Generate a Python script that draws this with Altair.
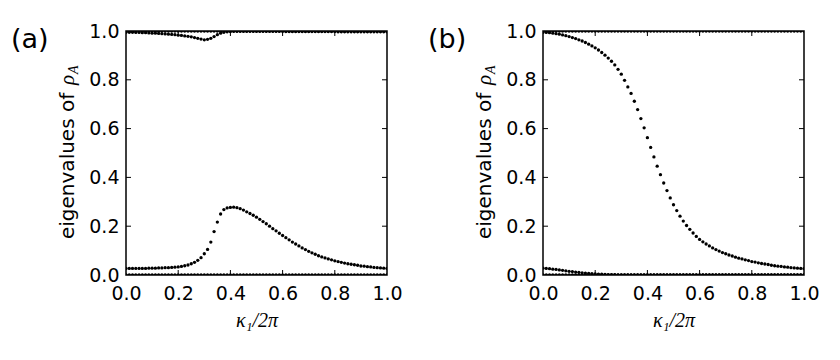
import altair as alt
import pandas as pd

# sampling grid of kappa_1 / 2pi (81 points)
kappa = [0.0, 0.0125, 0.025, 0.0375, 0.05, 0.0625, 0.075, 0.0875, 0.1, 0.1125,
         0.125, 0.1375, 0.15, 0.1625, 0.175, 0.1875, 0.2, 0.2125, 0.225, 0.2375,
         0.25, 0.2625, 0.275, 0.2875, 0.3, 0.3125, 0.325, 0.3375, 0.35, 0.3625,
         0.375, 0.3875, 0.4, 0.4125, 0.425, 0.4375, 0.45, 0.4625, 0.475, 0.4875,
         0.5, 0.5125, 0.525, 0.5375, 0.55, 0.5625, 0.575, 0.5875, 0.6, 0.6125,
         0.625, 0.6375, 0.65, 0.6625, 0.675, 0.6875, 0.7, 0.7125, 0.725, 0.7375,
         0.75, 0.7625, 0.775, 0.7875, 0.8, 0.8125, 0.825, 0.8375, 0.85, 0.8625,
         0.875, 0.8875, 0.9, 0.9125, 0.925, 0.9375, 0.95, 0.9625, 0.975, 0.9875, 1.0]

# panel (a)
a_top = [1.0] * 81
a_upper = [0.995, 0.995, 0.995, 0.994, 0.994, 0.993, 0.993, 0.992, 0.991, 0.991,
           0.990, 0.989, 0.988, 0.987, 0.986, 0.985, 0.983, 0.982, 0.980, 0.978,
           0.976, 0.973, 0.970, 0.967, 0.964, 0.966, 0.970, 0.977, 0.985, 0.991,
           0.995, 0.997, 0.998,
           0.999, 0.999, 0.999, 0.999, 0.999, 0.999, 0.999, 0.999,
           0.999, 0.999, 0.999, 0.999, 0.999, 0.999, 0.999, 0.999,
           0.998, 0.998, 0.998, 0.998, 0.998, 0.998, 0.998, 0.998,
           0.998, 0.998, 0.998, 0.998, 0.998, 0.998, 0.998, 0.998,
           0.997, 0.997, 0.997, 0.997, 0.997, 0.997, 0.997, 0.997,
           0.997, 0.997, 0.997, 0.997, 0.997, 0.997, 0.997, 0.997]
a_lower = [0.027, 0.027, 0.027, 0.027, 0.027, 0.027, 0.027, 0.028, 0.028, 0.028,
           0.029, 0.029, 0.030, 0.030, 0.031, 0.032, 0.033, 0.035, 0.038, 0.041,
           0.046, 0.052, 0.060, 0.071, 0.087, 0.105, 0.135, 0.178, 0.217, 0.250,
           0.268, 0.275, 0.277, 0.278, 0.276, 0.272, 0.266, 0.259, 0.252, 0.245,
           0.237, 0.228, 0.219, 0.210, 0.200, 0.190, 0.181, 0.171, 0.162, 0.153,
           0.144, 0.135, 0.127, 0.119, 0.111, 0.104, 0.097, 0.091, 0.085, 0.079,
           0.074, 0.070, 0.066, 0.062, 0.058, 0.055, 0.052, 0.049, 0.046, 0.044,
           0.042, 0.040, 0.037, 0.036, 0.034, 0.033, 0.031, 0.030, 0.029, 0.028, 0.027]
a_bottom = [0.0] * 81

# panel (b)
b_top = [1.0] * 81
b_upper = [0.995, 0.994, 0.993, 0.991, 0.989, 0.987, 0.984, 0.981, 0.977, 0.973,
           0.969, 0.964, 0.959, 0.953, 0.946, 0.939, 0.931, 0.922, 0.912, 0.901,
           0.889, 0.876, 0.861, 0.843, 0.823, 0.798, 0.771, 0.744, 0.712, 0.678,
           0.641, 0.603, 0.563, 0.523, 0.484, 0.446, 0.411, 0.377, 0.346, 0.316,
           0.288, 0.264, 0.241, 0.221, 0.203, 0.187, 0.172, 0.158, 0.146, 0.136,
           0.127, 0.119, 0.111, 0.104, 0.098, 0.092, 0.087, 0.082, 0.078, 0.073,
           0.069, 0.066, 0.062, 0.059, 0.055, 0.053, 0.050, 0.047, 0.045, 0.043,
           0.040, 0.038, 0.036, 0.035, 0.033, 0.032, 0.030, 0.029, 0.028, 0.027, 0.026]
b_lower = [0.028, 0.027, 0.026, 0.024, 0.023, 0.021, 0.019, 0.017, 0.015, 0.014,
           0.012, 0.011, 0.009, 0.008, 0.007, 0.006, 0.004, 0.003, 0.003, 0.002,
           0.001, 0.001, 0.001] + [0.0] * 58
b_bottom = [0.0] * 81

tick_vals = [0.0, 0.2, 0.4, 0.6, 0.8, 1.0]
inner_ticks = [0.2, 0.4, 0.6, 0.8]

# y-axis title pieces: plain text, math rho, subscript A
ytitle_main = "eigenvalues of "
ytitle_sym = "ρ"
ytitle_sub = "A"

W, H = 261, 244
TL = 5
FONT = "DejaVu Sans"
SERIF = "Liberation Serif"

X_AXIS = alt.Axis(
    values=tick_vals, format=".1f", title="κ₁/2π",
    labelFont=FONT, labelFontSize=19, labelColor="black", labelPadding=9,
    labelFlush=False, labelOverlap=False, ticks=False, tickSize=0,
    domain=False, grid=False,
    titleFont=SERIF, titleFontStyle="italic", titleFontWeight="normal",
    titleFontSize=20, titleColor="black", titlePadding=7)
Y_AXIS = alt.Axis(
    values=tick_vals, format=".1f", title=None,
    labelFont=FONT, labelFontSize=19, labelColor="black", labelPadding=7,
    labelFlush=False, labelOverlap=False, ticks=False, tickSize=0,
    domain=False, grid=False)


def panel(series, label):
    rows = []
    for name, vals in series.items():
        for k, v in zip(kappa, vals):
            rows.append({"k": k, "v": v, "s": name})
    df = pd.DataFrame(rows)
    xs = alt.Scale(domain=[0, 1], nice=False, zero=False)
    ys = alt.Scale(domain=[0, 1], nice=False, zero=False)
    dots = alt.Chart(df).mark_circle(size=11, color="black", opacity=1, clip=True).encode(
        x=alt.X("k:Q", scale=xs, axis=X_AXIS),
        y=alt.Y("v:Q", scale=ys, axis=Y_AXIS),
        detail="s:N",
    )
    tdf = pd.DataFrame({"t": inner_ticks})
    base = alt.Chart(tdf).mark_rule(color="black", strokeWidth=1)
    bottom = base.encode(x=alt.X("t:Q", scale=xs, axis=X_AXIS), y=alt.value(H), y2=alt.value(H - TL))
    top = base.encode(x=alt.X("t:Q", scale=xs, axis=X_AXIS), y=alt.value(0), y2=alt.value(TL))
    left = base.encode(y=alt.Y("t:Q", scale=ys, axis=Y_AXIS), x=alt.value(0), x2=alt.value(TL))
    right = base.encode(y=alt.Y("t:Q", scale=ys, axis=Y_AXIS), x=alt.value(W), x2=alt.value(W - TL))
    lab = alt.Chart(pd.DataFrame({"l": [label]})).mark_text(
        align="left", baseline="alphabetic", fontSize=27, font=FONT, color="black"
    ).encode(x=alt.value(-115), y=alt.value(17), text="l:N")
    # rotated y-axis title, built from three text pieces
    t1 = alt.Chart(pd.DataFrame({"l": [ytitle_main]})).mark_text(
        align="left", baseline="alphabetic", angle=270, fontSize=20, font=FONT, color="black"
    ).encode(x=alt.value(-52.5), y=alt.value(208), text="l:N")
    t2 = alt.Chart(pd.DataFrame({"l": [ytitle_sym]})).mark_text(
        align="left", baseline="alphabetic", angle=270, fontSize=21, font=SERIF,
        fontStyle="italic", color="black"
    ).encode(x=alt.value(-52.5), y=alt.value(54), text="l:N")
    t3 = alt.Chart(pd.DataFrame({"l": [ytitle_sub]})).mark_text(
        align="left", baseline="alphabetic", angle=270, fontSize=14, font=SERIF,
        fontStyle="italic", color="black"
    ).encode(x=alt.value(-48.5), y=alt.value(43), text="l:N")
    return alt.layer(dots, bottom, top, left, right, lab, t1, t2, t3).properties(width=W, height=H)


pa = panel({"top": a_top, "upper": a_upper, "lower": a_lower, "bottom": a_bottom}, "(a)")
pb = panel({"top": b_top, "upper": b_upper, "lower": b_lower, "bottom": b_bottom}, "(b)")

chart = (
    alt.hconcat(pa, pb, spacing=24)
    .properties(padding={"left": 2, "top": 13, "right": 0, "bottom": 0})
    .configure_view(stroke="black", strokeWidth=1.5)
)

chart.save("out.html", embed_options={"renderer": "svg", "actions": False})
